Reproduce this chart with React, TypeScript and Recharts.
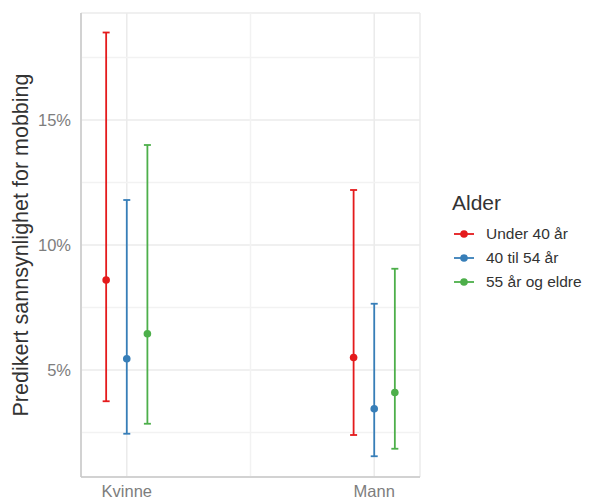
import React from "react";
import {
  CartesianGrid,
  ErrorBar,
  Legend,
  ReferenceLine,
  Scatter,
  ScatterChart,
  XAxis,
  YAxis,
} from "recharts";

const categories = ["Kvinne", "Mann"];
const groups = ["Under 40 år", "40 til 54 år", "55 år og eldre"];
const colors = ["#E41A1C", "#377EB8", "#4DAF4A"];

// predikert sannsynlighet (%) med nedre/øvre grense, per kjønn
const under40Est = [8.6, 5.5];
const under40Low = [3.75, 2.4];
const under40High = [18.5, 12.2];

const mid40Est = [5.45, 3.45];
const mid40Low = [2.45, 1.55];
const mid40High = [11.8, 7.65];

const over55Est = [6.45, 4.1];
const over55Low = [2.85, 1.85];
const over55High = [14.0, 9.05];

const yTicks = [5, 10, 15];
const yMinor = [2.5, 7.5, 12.5, 17.5];
const xMinor = [1.5];

const dodge = 0.25;
const font = '"Liberation Sans", Arial, sans-serif';

const series = [
  { est: under40Est, low: under40Low, high: under40High },
  { est: mid40Est, low: mid40Low, high: mid40High },
  { est: over55Est, low: over55Low, high: over55High },
].map((s, k) => ({
  name: groups[k],
  color: colors[k],
  data: categories.map((c, i) => ({
    x: i + 1 + ((k - 1) * dodge) / 3,
    y: s.est[i],
    err: [s.est[i] - s.low[i], s.high[i] - s.est[i]],
  })),
}));

const dot = (color: string) => (p: any) =>
  <circle cx={p.cx} cy={p.cy} r={3.8} fill={color} />;

function AgeLegend() {
  return (
    <div style={{ fontFamily: font, color: "#333" }}>
      <div style={{ fontSize: 21, lineHeight: "26px", marginBottom: 6 }}>Alder</div>
      {groups.map((g, k) => (
        <div
          key={g}
          style={{ display: "flex", alignItems: "center", height: 24, fontSize: 15.5 }}
        >
          <svg width={34} height={10}>
            <line x1={2} x2={22} y1={5} y2={5} stroke={colors[k]} strokeWidth={1.8} />
            <circle cx={12} cy={5} r={3.8} fill={colors[k]} />
          </svg>
          <span>{g}</span>
        </div>
      ))}
    </div>
  );
}

export default function App() {
  return (
    <div style={{ position: "absolute", left: 0, top: 0, width: 595, height: 500 }}>
      <ScatterChart
        width={595}
        height={500}
        margin={{ top: 13, right: 175, left: 0, bottom: 0 }}
      >
        <CartesianGrid stroke="#ebebeb" strokeWidth={1.5} />
        {yMinor.map((v) => (
          <ReferenceLine key={v} y={v} stroke="#f2f2f2" strokeWidth={1.5} />
        ))}
        {xMinor.map((v) => (
          <ReferenceLine key={v} x={v} stroke="#f2f2f2" strokeWidth={1.5} />
        ))}
        <XAxis
          dataKey="x"
          type="number"
          domain={[0.815, 2.185]}
          allowDataOverflow
          ticks={[1, 2]}
          tickFormatter={(v: number) => categories[Math.round(v) - 1]}
          height={23}
          tickSize={0}
          tickMargin={8}
          axisLine={{ stroke: "#c8c8c8", strokeWidth: 1.5 }}
          tickLine={false}
          tick={{ fill: "#7d7d7d", fontSize: 16.5, fontFamily: font }}
        />
        <YAxis
          dataKey="y"
          type="number"
          domain={[0.72, 19.28]}
          allowDataOverflow
          ticks={yTicks}
          tickFormatter={(v: number) => `${v}%`}
          width={81}
          tickSize={0}
          tickMargin={10}
          axisLine={{ stroke: "#c8c8c8", strokeWidth: 1.5 }}
          tickLine={false}
          tick={{ fill: "#7d7d7d", fontSize: 16.5, fontFamily: font }}
          label={{
            value: "Predikert sannsynlighet for mobbing",
            angle: -90,
            position: "insideLeft",
            offset: 20,
            style: { textAnchor: "middle", fontSize: 21.5, fill: "#333", fontFamily: font },
          }}
        />
        {series.map((s) => (
          <Scatter
            key={s.name}
            name={s.name}
            data={s.data}
            fill={s.color}
            shape={dot(s.color)}
            isAnimationActive={false}
          >
            <ErrorBar
              dataKey="err"
              direction="y"
              width={3.5}
              stroke={s.color}
              strokeWidth={1.8}
              isAnimationActive={false}
            />
          </Scatter>
        ))}
        <Legend
          layout="vertical"
          align="center"
          verticalAlign="middle"
          content={() => <AgeLegend />}
          wrapperStyle={{ left: 452, top: 190, width: 143 }}
        />
      </ScatterChart>
    </div>
  );
}
